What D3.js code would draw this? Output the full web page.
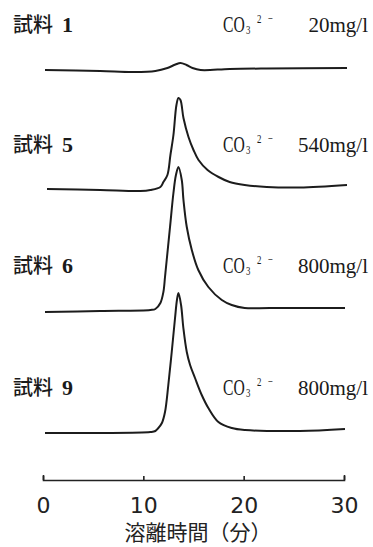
<!DOCTYPE html>
<html>
<head>
<meta charset="utf-8">
<script src="https://cdn.jsdelivr.net/npm/d3@7"></script>
<style>
  body { margin: 0; background: #fff; }
  svg { display: block; }
</style>
</head>
<body>
<div id="chart"></div>
<script>
// sample numbers and CO3 concentration labels
var sampleNos = [1, 5, 6, 9];
var concLabels = ["20mg/l", "540mg/l", "800mg/l", "800mg/l"];
// vertical offset of each trace (signal units)
var offsets = [410, 290, 169, 47];
var xTicks = [0, 10, 20, 30];

// [elution time (min), signal]
var trace1 = [[0.2,0],[5.7,-1],[9.0,-2],[11.2,-1],[12.4,2],[13.2,5.5],[13.7,7],[14.3,5],[14.9,2],[15.7,0],[18.6,1],[22.3,1.5],[30.3,2]];
var trace5 = [[0.4,1],[5.7,0],[9.7,-1],[10.7,0],[11.7,3],[12.0,8],[12.4,15],[12.7,35],[13.0,55],[13.3,85],[13.5,92],[13.7,90],[14.0,72],[14.5,53],[15.0,40],[15.5,30],[16.4,20],[17.5,13],[18.6,8],[20.1,5],[22.3,3],[25.6,2.5],[30.3,5]];
var trace6 = [[0.2,-1],[5.7,0],[10.7,1],[11.2,2],[11.7,8],[12.0,19],[12.16,34],[12.33,51],[12.66,84],[13.0,118],[13.25,136],[13.5,144],[13.83,131],[14.0,111],[14.33,84],[14.83,61],[15.48,41],[16.48,24],[17.82,11],[18.81,6],[20.1,3],[22.6,3],[30.1,3]];
var trace9 = [[0.2,0],[5.7,0],[10.7,1],[11.2,2],[11.5,5],[11.85,10],[12.16,21],[12.49,48],[12.83,81],[13.16,115],[13.35,133],[13.5,140],[13.76,128],[13.99,105],[14.33,81],[14.66,68],[15.15,55],[15.82,38],[16.48,25],[17.48,11],[18.81,5],[20.14,3],[25.6,2],[30.1,4]];
var traces = [trace1, trace5, trace6, trace9];

var width = 373, height = 547;

var svg = d3.select("#chart")
  .append("svg")
    .attr("width", width)
    .attr("height", height);

var x = d3.scaleLinear().domain([0, 30]).range([43, 344]);
var y = d3.scaleLinear().domain([0, 470]).range([480, 10]);

var line = d3.line()
  .x(function(d) { return x(d[0]); })
  .y(function(d) { return d[2]; })
  .curve(d3.curveCatmullRom.alpha(0.5));

// traces
svg.selectAll(".trace")
  .data(traces)
  .enter()
  .append("path")
    .attr("class", "trace")
    .attr("fill", "none")
    .attr("stroke", "#1c1c1c")
    .attr("stroke-width", 2)
    .attr("stroke-linejoin", "round")
    .attr("d", function(d, i) {
      return line(d.map(function(p) { return [p[0], p[1], y(p[1] + offsets[i])]; }));
    });

// sample labels on the left
var sample = svg.selectAll(".sample")
  .data(sampleNos)
  .enter()
  .append("text")
    .attr("class", "sample")
    .attr("y", function(d, i) { return y(offsets[i]) - 38; })
    .attr("fill", "#1a1a1a");
sample.append("tspan")
  .attr("x", 13)
  .attr("font-family", "'Noto Sans CJK JP', sans-serif")
  .attr("font-size", 20)
  .attr("font-weight", 500)
  .text("試料");
sample.append("tspan")
  .attr("x", 62)
  .attr("font-family", "'Liberation Serif', serif")
  .attr("font-size", 22)
  .attr("font-weight", "bold")
  .text(function(d) { return d; });

// CO3 2- labels on the right
var conc = svg.selectAll(".conc")
  .data(concLabels)
  .enter()
  .append("g")
    .attr("class", "conc")
    .attr("transform", function(d, i) { return "translate(0," + (y(offsets[i]) - 38) + ")"; })
    .attr("font-family", "'Liberation Serif', serif")
    .attr("fill", "#1a1a1a");

var ion = conc.append("text")
  .attr("transform", "translate(223,0) scale(0.68,1)");
ion.append("tspan").attr("x", 0).attr("y", 0).attr("font-size", 23).text("CO");
ion.append("tspan").attr("x", 34).attr("y", 2).attr("font-size", 13).text("3");
ion.append("tspan").attr("x", 50).attr("y", -9).attr("font-size", 13).text("2");
ion.append("tspan").attr("x", 66).attr("y", -9).attr("font-size", 13).text("−");

conc.append("text")
  .attr("x", 368).attr("y", 0)
  .attr("text-anchor", "end")
  .attr("font-size", 21)
  .text(function(d) { return d; });

// time axis
var axis = svg.append("g")
  .attr("transform", "translate(0,480)")
  .call(d3.axisBottom(x).tickValues(xTicks).tickSize(-4).tickSizeOuter(-5).tickPadding(17));
axis.select(".domain").attr("stroke", "#222").attr("stroke-width", 1.6);
axis.selectAll(".tick line").attr("stroke", "#222").attr("stroke-width", 1.6);
axis.selectAll(".tick text")
  .attr("font-family", "'DejaVu Sans', sans-serif")
  .attr("font-size", 22)
  .attr("fill", "#222");

svg.append("text")
  .attr("x", 198)
  .attr("y", 540)
  .attr("text-anchor", "middle")
  .attr("font-family", "'Noto Sans CJK JP', sans-serif")
  .attr("font-size", 21)
  .attr("fill", "#222")
  .text("溶離時間（分）");
</script>
</body>
</html>
